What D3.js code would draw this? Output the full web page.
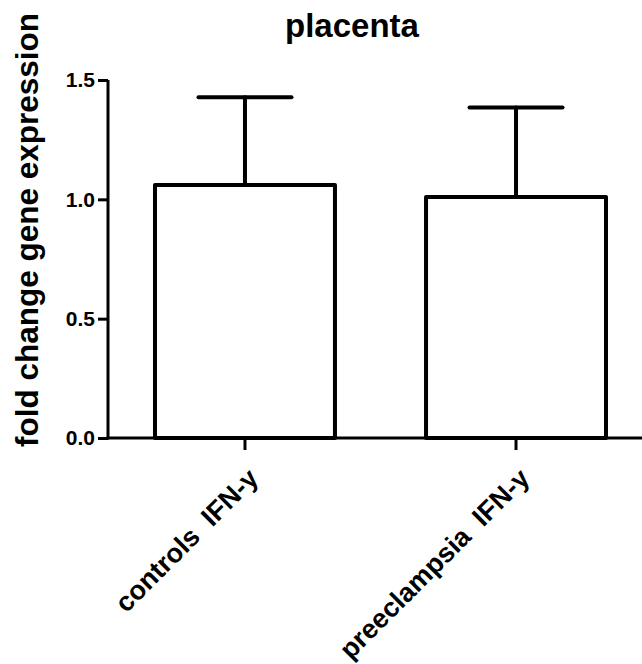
<!DOCTYPE html>
<html>
<head>
<meta charset="utf-8">
<script src="https://cdn.jsdelivr.net/npm/d3@7"></script>
<style>
  body { margin: 0; background: #fff; }
  text { font-family: "Liberation Sans", Arial, sans-serif; font-weight: bold; }
</style>
</head>
<body>
<div id="chart"></div>
<script>
// data
const groups = ["controls  IFN-y", "preeclampsia  IFN-y"];
const means = [1.06, 1.01];
const errUpper = [1.428, 1.385];
const yTicks = [0, 0.5, 1.0, 1.5];

const width = 642, height = 664;

const svg = d3.select("#chart").append("svg")
    .attr("width", width)
    .attr("height", height);

const y = d3.scaleLinear()
    .domain([0, 1.5])
    .range([438, 80]);

const x = d3.scaleBand()
    .domain(groups)
    .range([110, 651])
    .paddingInner(0.336)
    .paddingOuter(0.166);

// title
svg.append("text")
    .attr("x", 352)
    .attr("y", 37)
    .attr("text-anchor", "middle")
    .style("font-size", "33px")
    .text("placenta");

// y title
svg.append("text")
    .attr("transform", "translate(38,230) rotate(-90)")
    .attr("text-anchor", "middle")
    .style("font-size", "31.5px")
    .text("fold change gene expression");

// bars
svg.append("g")
  .selectAll("rect")
  .data(means)
  .join("rect")
    .attr("x", (d, i) => x(groups[i]))
    .attr("y", d => y(d))
    .attr("width", x.bandwidth())
    .attr("height", d => y(0) - y(d))
    .attr("fill", "#fff")
    .attr("stroke", "#000")
    .attr("stroke-width", 4)
    .attr("stroke-linejoin", "round");

// error bars (upper only)
const capW = 93;
const err = svg.append("g")
    .attr("stroke", "#000")
    .attr("stroke-width", 4)
    .attr("stroke-linecap", "round");

err.selectAll("line.v")
  .data(errUpper)
  .join("line")
    .attr("class", "v")
    .attr("x1", (d, i) => x(groups[i]) + x.bandwidth() / 2)
    .attr("x2", (d, i) => x(groups[i]) + x.bandwidth() / 2)
    .attr("y1", (d, i) => y(means[i]))
    .attr("y2", d => y(d));

err.selectAll("line.cap")
  .data(errUpper)
  .join("line")
    .attr("class", "cap")
    .attr("x1", (d, i) => x(groups[i]) + x.bandwidth() / 2 - capW / 2)
    .attr("x2", (d, i) => x(groups[i]) + x.bandwidth() / 2 + capW / 2)
    .attr("y1", d => y(d))
    .attr("y2", d => y(d));

// y axis
const yAxis = svg.append("g")
    .attr("transform", "translate(108,0)")
    .call(d3.axisLeft(y).tickValues(yTicks).tickFormat(d3.format(".1f")).tickSize(10).tickSizeOuter(0).tickPadding(3));
yAxis.select(".domain").attr("stroke-width", 3).attr("d", `M0,${y(1.5)}V${y(0) + 1.5}`);
yAxis.selectAll(".tick line").attr("stroke-width", 3);
yAxis.selectAll(".tick text")
    .style("font-size", "21px")
    .attr("fill", "#000");

// x axis
const xAxis = svg.append("g")
    .attr("transform", `translate(0,${y(0)})`)
    .call(d3.axisBottom(x).tickSize(12).tickSizeOuter(0).tickFormat(""));
xAxis.select(".domain").attr("stroke-width", 3).attr("d", "M106.5,0H642");
xAxis.selectAll(".tick line").attr("stroke-width", 3);

// rotated category labels
svg.append("g")
  .selectAll("text")
  .data(groups)
  .join("text")
    .attr("transform", d => `translate(${x(d) + x.bandwidth() / 2 + 15},${y(0) + 42}) rotate(-45)`)
    .attr("text-anchor", "end")
    .style("font-size", "27px")
    .style("white-space", "pre")
    .text(d => d);
</script>
</body>
</html>
